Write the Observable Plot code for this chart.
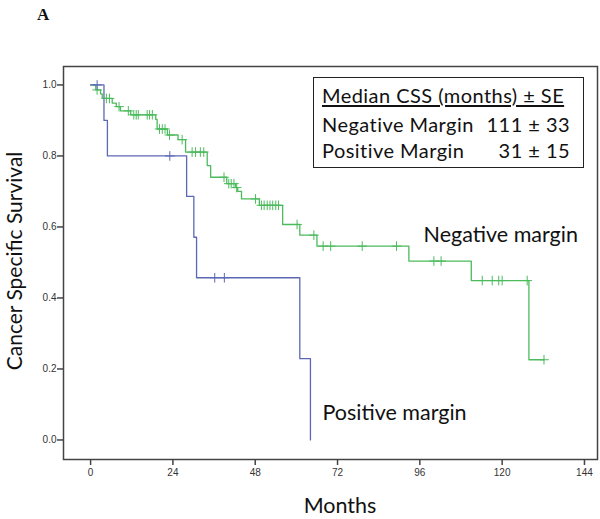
<!DOCTYPE html>
<html>
<head>
<meta charset="utf-8">
<script src="https://cdn.jsdelivr.net/npm/d3@7"></script>
<script src="https://cdn.jsdelivr.net/npm/@observablehq/plot@0.6"></script>
<style>
  html, body { margin: 0; padding: 0; background: #fff; }
  #wrap { position: relative; width: 600px; height: 519px; overflow: hidden; }
  #chart { position: absolute; left: 0; top: 0; }
  .ov { position: absolute; white-space: nowrap; color: #111; font-family: Lato, "Open Sans", sans-serif; }
  #panel { left: 37px; top: 5px; font-family: "Liberation Serif", serif; font-weight: bold; font-size: 17px; }
  #ytitle { left: 14px; top: 261px; font-size: 21px; line-height: 20px; transform: translate(-50%, -50%) rotate(-90deg); }
  #xtitle { left: 340px; top: 505px; font-size: 21.5px; line-height: 18px; transform: translate(-50%, -50%); }
  #legend { left: 313px; top: 77px; width: 269px; height: 89px; border: 1.5px solid #222; font-size: 20px; letter-spacing: 0.45px; }
  #legend .row { position: absolute; left: 8px; right: 13px; height: 26px; line-height: 26px; }
  #legend .row .v { position: absolute; right: 0; top: 0; }
  #legend .title { text-decoration: underline; text-underline-offset: 2px; }
</style>
</head>
<body>
<div id="wrap">
  <div id="chart"></div>
  <div class="ov" id="panel"></div>
  <div class="ov" id="ytitle"></div>
  <div class="ov" id="xtitle"></div>
  <div class="ov" id="legend"></div>
</div>
<script>
// ---- data ----
const panelLetter = "A";
const yTitle = "Cancer Specific Survival";
const xTitle = "Months";
const xTicks = [0, 24, 48, 72, 96, 120, 144];
const yTicks = [0, 0.2, 0.4, 0.6, 0.8, 1.0];

// Negative margin (green) Kaplan-Meier steps
const negTimes = [0, 1.5, 2.9, 3.4, 6.3, 7.5, 8.7, 11.7, 19.0, 19.4, 22.4, 25.5, 27.7, 34.0, 35.0, 39.7, 42.3, 42.9, 44.0, 49.2, 56.0, 61.0, 66.0, 92.8, 111.0, 127.8, 132.2];
const negSurv  = [1.0, 0.986, 0.975, 0.962, 0.949, 0.939, 0.927, 0.916, 0.903, 0.876, 0.859, 0.846, 0.811, 0.773, 0.740, 0.722, 0.711, 0.700, 0.679, 0.661, 0.607, 0.577, 0.546, 0.504, 0.449, 0.226, 0.226];
const negCensorTimes = [1.9, 4.6, 5.5, 8.3, 11.0, 12.6, 13.3, 13.9, 16.5, 17.2, 18.0, 20.1, 20.9, 21.7, 23.0, 26.7, 29.6, 30.6, 32.0, 33.0, 38.9, 40.3, 41.0, 41.8, 42.6, 48.1, 49.8, 50.6, 51.5, 52.3, 53.1, 54.0, 54.8, 60.2, 65.1, 67.8, 70.0, 79.2, 89.2, 100.1, 102.2, 114.2, 117.1, 119.0, 120.0, 127.3, 132.2];
const negCensorSurv  = [0.986, 0.962, 0.962, 0.939, 0.927, 0.916, 0.916, 0.916, 0.916, 0.916, 0.916, 0.876, 0.876, 0.876, 0.859, 0.846, 0.811, 0.811, 0.811, 0.811, 0.740, 0.722, 0.722, 0.722, 0.711, 0.679, 0.661, 0.661, 0.661, 0.661, 0.661, 0.661, 0.661, 0.607, 0.577, 0.546, 0.546, 0.546, 0.546, 0.504, 0.504, 0.449, 0.449, 0.449, 0.449, 0.449, 0.226];

// Positive margin (blue) Kaplan-Meier steps
const posTimes = [0, 3.9, 4.9, 28.0, 30.1, 30.9, 61.0, 64.1];
const posSurv  = [1.0, 0.9, 0.8, 0.686, 0.571, 0.457, 0.229, 0.0];
const posCensorTimes = [1.9, 23.1, 36.2, 39.0];
const posCensorSurv  = [1.0, 0.8, 0.457, 0.457];

// curve annotations (month, survival of text middle)
const curveLabels = ["Negative margin", "Positive margin"];
const curveLabelMonths = [97.1, 67.6];
const curveLabelSurv = [0.576, 0.075];

// legend table
const legendTitle = "Median CSS (months) \u00b1 SE";
const legendGroups = ["Negative Margin", "Positive Margin"];
const legendValues = ["111 \u00b1 33", "31 \u00b1 15"];

const green = "#4cbb5c";
const blue = "#5c68b4";

// ---- build tables ----
const negLine = negTimes.map((t, i) => ({t, s: negSurv[i]}));
const posLine = posTimes.map((t, i) => ({t, s: posSurv[i]}));
const negCens = negCensorTimes.map((t, i) => ({t, s: negCensorSurv[i]}));
const posCens = posCensorTimes.map((t, i) => ({t, s: posCensorSurv[i]}));
const labels = curveLabels.map((name, i) => ({name, t: curveLabelMonths[i], s: curveLabelSurv[i]}));

const chart = Plot.plot({
  width: 600,
  height: 519,
  marginLeft: 63,
  marginRight: 3,
  marginTop: 66,
  marginBottom: 60,
  style: {fontFamily: "Liberation Sans, Arial, sans-serif", fontSize: "10px", color: "#333", background: "#fff"},
  x: {domain: [-7.9, 147.8]},
  y: {domain: [-0.055, 1.052]},
  marks: [
    Plot.axisX({ticks: xTicks, tickSize: 6, tickPadding: 3, label: null, stroke: "#444", strokeWidth: 1.5}),
    Plot.axisY({ticks: yTicks, tickSize: 6, tickPadding: 1, tickFormat: d3.format(".1f"), label: null, stroke: "#444", strokeWidth: 1.5}),
    Plot.line(negLine, {x: "t", y: "s", curve: "step-after", stroke: green, strokeWidth: 1.3}),
    Plot.line(posLine, {x: "t", y: "s", curve: "step-after", stroke: blue, strokeWidth: 1.3}),
    Plot.dot(negCens, {x: "t", y: "s", symbol: "plus", r: 3.2, stroke: green, strokeWidth: 1}),
    Plot.dot(posCens, {x: "t", y: "s", symbol: "plus", r: 3.2, stroke: blue, strokeWidth: 1}),
    Plot.text(labels, {x: "t", y: "s", text: "name", textAnchor: "start", lineAnchor: "middle", fontSize: 21.5, fontFamily: "Lato, sans-serif", fill: "#111"}),
    Plot.frame({stroke: "#444", strokeWidth: 1.5})
  ]
});
document.getElementById("chart").appendChild(chart);

document.getElementById("panel").textContent = panelLetter;
document.getElementById("ytitle").textContent = yTitle;
document.getElementById("xtitle").textContent = xTitle;

const lg = document.getElementById("legend");
const tops = [4, 33, 59];
const t0 = document.createElement("div");
t0.className = "row";
t0.style.top = tops[0] + "px";
t0.innerHTML = '<span class="title"></span>';
t0.querySelector(".title").textContent = legendTitle;
lg.appendChild(t0);
legendGroups.forEach((g, i) => {
  const r = document.createElement("div");
  r.className = "row";
  r.style.top = tops[i + 1] + "px";
  const a = document.createElement("span");
  a.textContent = g;
  const b = document.createElement("span");
  b.className = "v";
  b.textContent = legendValues[i];
  r.appendChild(a);
  r.appendChild(b);
  lg.appendChild(r);
});
</script>
</body>
</html>
